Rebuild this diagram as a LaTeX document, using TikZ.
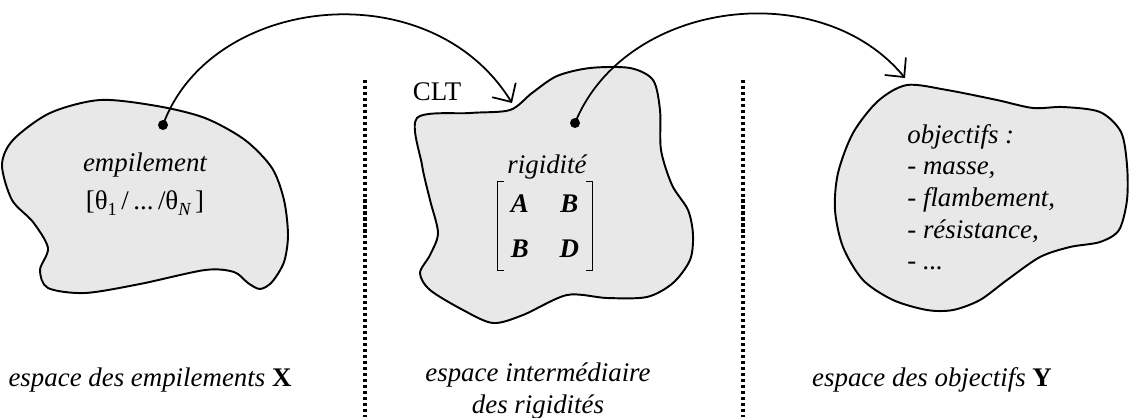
\documentclass[tikz,border=0pt]{standalone}
\usepackage{fontspec}
\setmainfont{Liberation Serif}
\usetikzlibrary{arrows.meta}
\definecolor{blobgray}{RGB}{232,232,232}
\newcommand{\lowidx}[1]{\raisebox{-0.5ex}{\fontsize{10.5}{12}\selectfont #1}}
\newcommand{\bi}[1]{{\bfseries\itshape #1}}

\begin{document}
\begin{tikzpicture}[x=0.02cm, y=-0.02cm,
  blob/.style={fill=blobgray, draw=black, line width=1.1pt},
  sepline/.style={line width=1.8pt, dash pattern=on 1.8pt off 1.6pt},
  map/.style={line width=1pt, -{Straight Barb[length=2.8mm,width=5.5mm]}},
  bracket/.style={line width=0.6pt},
  txt/.style={font=\fontsize{15.3}{18}\selectfont\itshape, inner sep=0pt},
  upright/.style={font=\fontsize{15.3}{18}\selectfont}]
  \useasboundingbox (0,0) rectangle (1129,417);

  % les trois espaces
  \draw[blob] plot[smooth cycle] coordinates {(2,165) (13,140) (50,113) (100,100)
    (157,106) (205,118) (245,140) (272,168) (284,200) (288,235) (284,262)
    (272,282) (260,289) (248,283) (234,272) (205,270) (140,284) (85,293)
    (48,288) (40,270) (48,248) (33,222) (12,200)};
  \draw[blob] plot[smooth cycle] coordinates {(417,118) (470,113) (510,110)
    (532,93) (557,76) (590,68) (630,68) (653,80) (660,110) (661,150)
    (672,185) (688,210) (693,235) (690,260) (673,283) (647,297) (607,298)
    (567,295) (523,315) (493,323) (463,310) (430,290) (420,273) (430,255)
    (438,233) (430,200) (422,165)};
  \draw[blob] plot[smooth cycle] coordinates {(907,85) (947,90) (997,100)
    (1033,108) (1063,107) (1100,112) (1121,132) (1127,165) (1127,200)
    (1119,230) (1100,242) (1070,247) (1040,257) (1007,280) (980,300)
    (953,310) (927,310) (893,300) (863,280) (843,247) (835,210) (838,173)
    (853,133) (878,101)};

  \coordinate (sepA) at (365,80);
  \coordinate (sepB) at (365,417);
  \coordinate (sepC) at (743,80);
  \coordinate (sepD) at (743,417);
  \draw[sepline] (sepA) -- (sepB);
  \draw[sepline] (sepC) -- (sepD);

  \coordinate (ptX) at (163,125);
  \coordinate (ptR) at (575,123);
  \coordinate (tipR) at (512,103);
  \coordinate (tipY) at (905,78);
  \fill (ptX) circle (1mm);
  \fill (ptR) circle (1mm);
  \draw[map] (ptX) .. controls (210,-5) and (430,-30) .. (tipR);
  \draw[map] (ptR) .. controls (625,0) and (820,-25) .. (tipY);

  \node[txt] (empil) at (145,165) {empilement};
  \node[txt, upright] (theta) at (145,203)
    {[θ\lowidx{1}\,/\,...\,/θ\lowidx{\itshape N}\,]};
  \node[txt, upright] (clt) at (437,92) {CLT};
  \node[txt] (rigid) at (547,167) {rigidité};
  \node[txt, upright, minimum width=1.9cm, minimum height=1.52cm] (mat) at (545,226)
    {\renewcommand{\arraystretch}{1.4}\begin{tabular}{@{}c@{\hspace{1.15em}}c@{}}
      \bi{A} & \bi{B}\\ \bi{B} & \bi{D}\end{tabular}};
  \draw[bracket] ([xshift=1.3mm]mat.north west) -- (mat.north west)
    -- (mat.south west) -- ([xshift=1.3mm]mat.south west);
  \draw[bracket] ([xshift=-1.3mm]mat.north east) -- (mat.north east)
    -- (mat.south east) -- ([xshift=-1.3mm]mat.south east);
  \node[txt, anchor=north west, align=left] (obj) at (907,124)
    {objectifs :\\- masse,\\- flambement,\\- résistance,\\- ...};

  \node[txt] (espX) at (150,380) {espace des empilements \upshape\bfseries X};
  \node[txt, align=center] (espR) at (538,391)
    {espace intermédiaire\\des rigidités};
  \node[txt] (espY) at (932,380) {espace des objectifs \upshape\bfseries Y};
\end{tikzpicture}
\end{document}
